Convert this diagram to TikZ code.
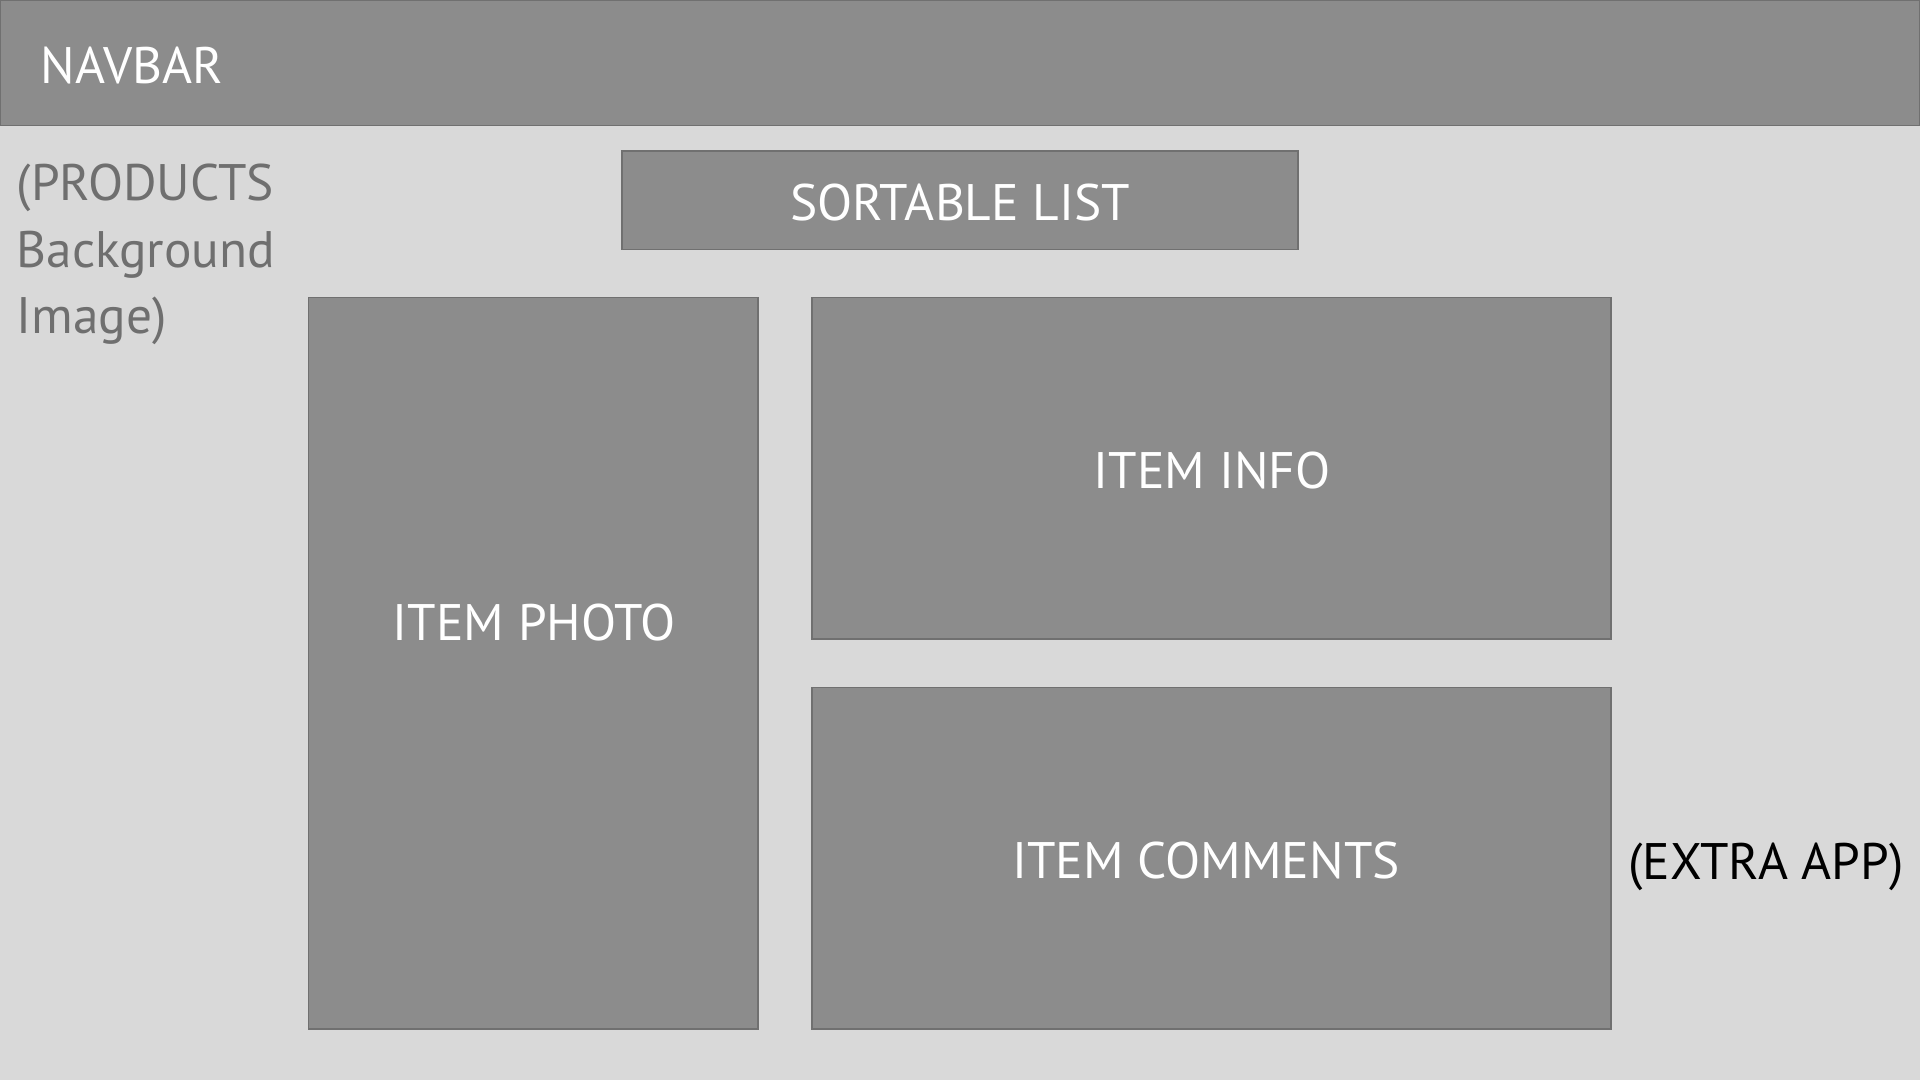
\documentclass[tikz,border=0pt]{standalone}
\usepackage{fontspec}
\setmainfont{PT Sans}
\usepackage{xcolor}
\usetikzlibrary{positioning}

\definecolor{pagegray}{HTML}{D9D9D9}
\definecolor{panelgray}{HTML}{8C8C8C}
\definecolor{edgegray}{HTML}{707070}
\definecolor{notegray}{HTML}{6F6F6F}

\begin{document}
\begin{tikzpicture}[x=0.01cm,y=-0.01cm,
  panel/.style={fill=panelgray,draw=edgegray,line width=0.5pt},
  label/.style={text=white,inner sep=0pt,anchor=base,font=\fontsize{14.6}{19}\selectfont},
  note/.style={label,text=notegray,anchor=base west}]
\useasboundingbox (0,0) rectangle (1920,1080);
\fill[pagegray] (0,0) rectangle (1920,1080);

% panels of the page
\draw[panel] (0.5,0.5) rectangle (1919.5,125.5);
\draw[panel] (622,151) rectangle (1298,249.5);
\draw[panel] (308.5,297.5) rectangle (758,1029);
\draw[panel] (812,297.5) rectangle (1611,639);
\draw[panel] (812,687.5) rectangle (1611,1029);

% panel titles
\node[label,anchor=base west] (navbar) at (40,83.3) {NAVBAR};
\node[label] (sortlist) at (960,220.7) {SORTABLE LIST};
\node[label] (photo) at (534,641) {ITEM PHOTO};
\node[label] (info) at (1212,488.3) {ITEM INFO};
\node[label] (comments) at (1206,879) {ITEM COMMENTS};

% side notes
\node[note] (products) at (16,200.7) {(PRODUCTS};
\node[note] (background) at (16,267.3) {Background};
\node[note] (image) at (16,334) {Image)};
\node[label,text=black] (extra) at (1766,879.3) {(EXTRA APP)};
\end{tikzpicture}
\end{document}
